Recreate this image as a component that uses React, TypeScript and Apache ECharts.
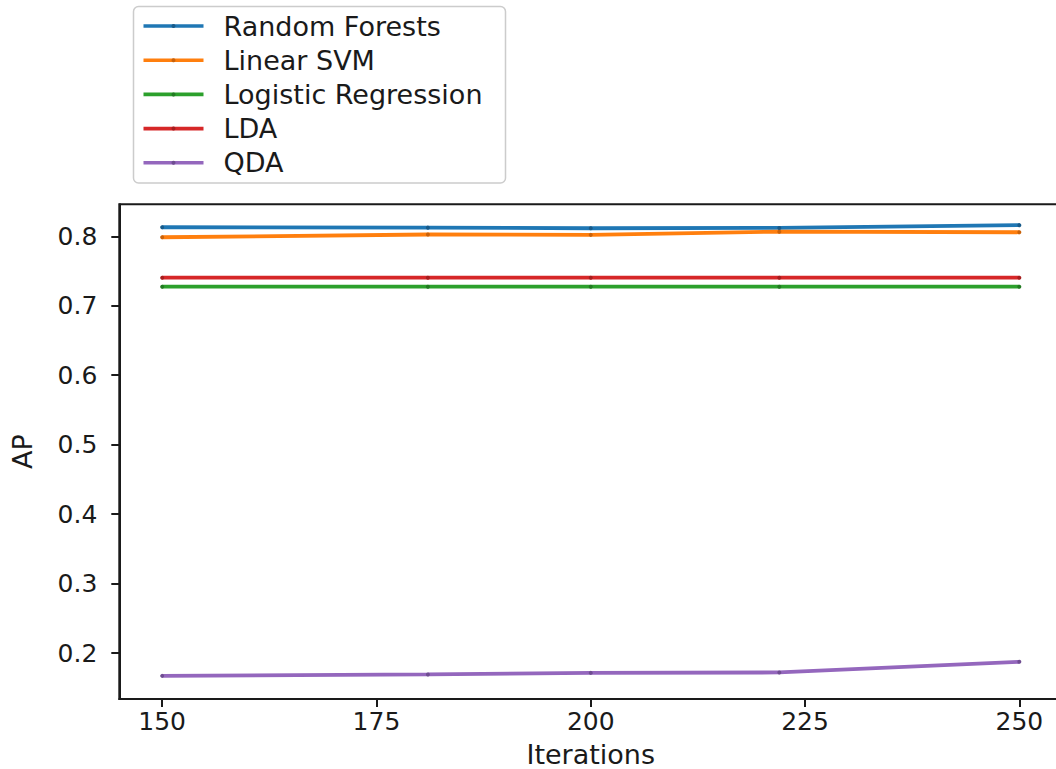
import React, { useEffect, useRef } from "react";
import * as echarts from "echarts";

// Iteration counts at which each classifier was evaluated
const iterations = [150, 181, 200, 222, 250];

const seriesNames = ["Random Forests", "Linear SVM", "Logistic Regression", "LDA", "QDA"];

// Average precision per classifier
const randomForests = [0.813, 0.8124, 0.8115, 0.812, 0.816];
const linearSvm = [0.7986, 0.8025, 0.802, 0.8066, 0.8058];
const logisticRegression = [0.7274, 0.7274, 0.7274, 0.7274, 0.7274];
const lda = [0.7404, 0.7404, 0.7404, 0.7404, 0.7404];
const qda = [0.1673, 0.1693, 0.1716, 0.1722, 0.1875];

const xTicks = [150, 175, 200, 225, 250];
const yTicks = [0.2, 0.3, 0.4, 0.5, 0.6, 0.7, 0.8];

const colors = ["#1f77b4", "#ff7f0e", "#2ca02c", "#d62728", "#9467bd"];
const dotColors = ["#175a8a", "#c9620a", "#217a21", "#a61e1e", "#6f4d91"];

const FONT = "DejaVu Sans";
const TICK_SIZE = 25;
const TEXT_SIZE = 27;
const INK = "#1a1a1a";

export default function App() {
  const ref = useRef<HTMLDivElement>(null);

  useEffect(() => {
    if (!ref.current) return;
    const chart = echarts.init(ref.current, undefined, { renderer: "svg" });
    const values = [randomForests, linearSvm, logisticRegression, lda, qda];

    chart.setOption({
      animation: false,
      backgroundColor: "#ffffff",
      textStyle: { fontFamily: FONT },
      grid: {
        left: 119.3,
        top: 204.3,
        width: 942.9,
        height: 494.7,
        show: true,
        borderColor: INK,
        borderWidth: 2,
        containLabel: false,
        // keep the plot box exactly where it is placed; the right border
        // runs just past the edge of the canvas
        outerBoundsMode: "none",
      },
      graphic: [
        {
          type: "rect",
          z: 1,
          shape: { x: 133.5, y: 6.5, width: 372, height: 176.5, r: 5 },
          style: { fill: "#ffffff", stroke: "#cccccc", lineWidth: 1.5 },
        },
      ],
      legend: {
        z: 5,
        orient: "vertical",
        left: 141.7,
        top: 12.5,
        padding: 0,
        itemWidth: 60,
        itemHeight: 5,
        itemGap: 7.2,
        data: seriesNames,
        lineStyle: { width: 3.6 },
        textStyle: {
          fontFamily: FONT,
          fontSize: TEXT_SIZE,
          color: INK,
          padding: [0, 0, 0, 15],
        },
      },
      xAxis: {
        type: "value",
        min: 145,
        max: 255,
        name: "Iterations",
        nameLocation: "middle",
        nameGap: 55,
        nameTextStyle: {
          fontFamily: FONT,
          fontSize: TEXT_SIZE,
          color: INK,
          verticalAlign: "middle",
        },
        axisLine: { show: true, lineStyle: { color: INK, width: 2 } },
        axisTick: {
          show: true,
          length: 8,
          lineStyle: { color: INK, width: 2 },
          customValues: xTicks,
        },
        axisLabel: {
          fontFamily: FONT,
          fontSize: TICK_SIZE,
          color: INK,
          margin: 10,
          customValues: xTicks,
          formatter: (v: number) => String(v),
        },
        splitLine: { show: false },
      },
      yAxis: {
        type: "value",
        min: 0.134,
        max: 0.846,
        name: "AP",
        nameLocation: "middle",
        nameGap: 97,
        nameTextStyle: {
          fontFamily: FONT,
          fontSize: TEXT_SIZE,
          color: INK,
          verticalAlign: "middle",
        },
        axisLine: { show: true, lineStyle: { color: INK, width: 2 } },
        axisTick: {
          show: true,
          length: 8,
          lineStyle: { color: INK, width: 2 },
          customValues: yTicks,
        },
        axisLabel: {
          fontFamily: FONT,
          fontSize: TICK_SIZE,
          color: INK,
          margin: 22,
          customValues: yTicks,
          formatter: (v: number) => v.toFixed(1),
        },
        splitLine: { show: false },
      },
      series: seriesNames.map((name, i) => ({
        name,
        type: "line",
        data: iterations.map((x, j) => [x, values[i][j]]),
        symbol: "circle",
        symbolSize: 4,
        showSymbol: true,
        lineStyle: { color: colors[i], width: 3.8 },
        itemStyle: { color: dotColors[i], borderWidth: 0 },
        emphasis: { disabled: true },
        z: 3,
      })),
    });

    return () => chart.dispose();
  }, []);

  return (
    <div
      ref={ref}
      style={{ position: "fixed", left: 0, top: 0, width: 1056, height: 769 }}
    />
  );
}
